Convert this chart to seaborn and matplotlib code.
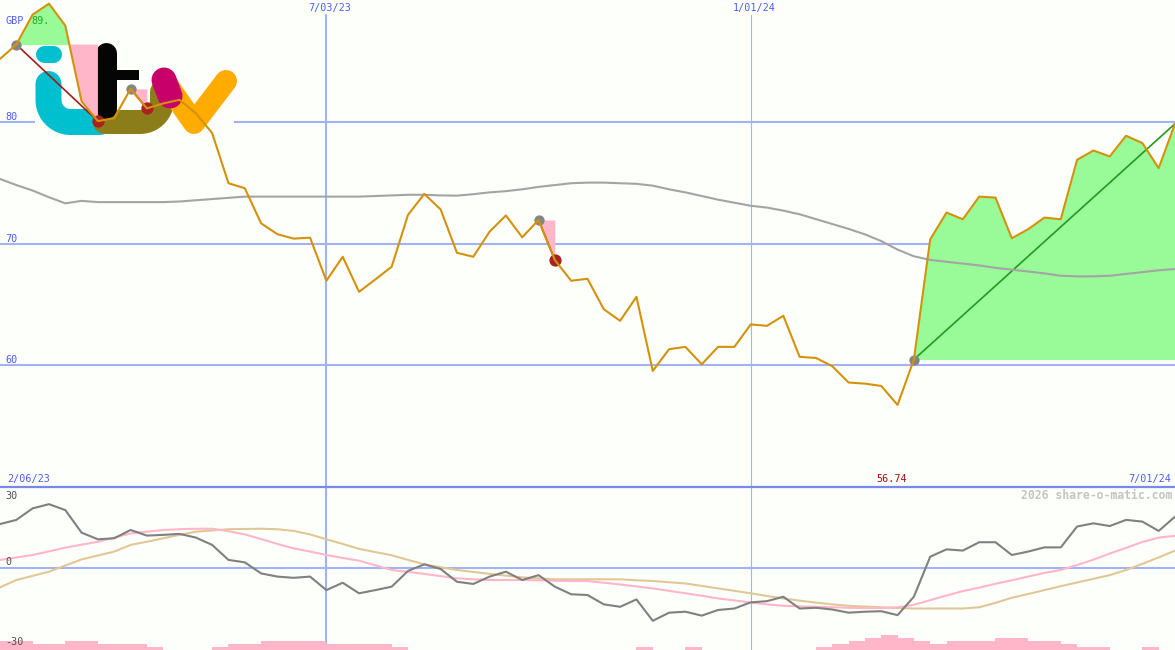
import numpy as np
import pandas as pd
import matplotlib
matplotlib.use("Agg")
import matplotlib.pyplot as plt
import seaborn as sns
from matplotlib.transforms import Affine2D, blended_transform_factory
from matplotlib.patches import Rectangle

# ---------------- data ----------------
start_date = "2023-02-13"
price = [85.16, 86.34, 88.8, 89.7, 87.9, 81.67, 80.05, 80.3, 82.7, 81.1,
         81.5, 81.8, 80.7, 79.07, 74.95, 74.54, 71.66, 70.76, 70.4, 70.48,
         66.94, 68.91, 66.03, 67.05, 68.09, 72.35, 74.07, 72.8, 69.24, 68.91,
         70.97, 72.3, 70.51, 71.93, 68.64, 66.94, 67.1, 64.6, 63.65, 65.62,
         59.53, 61.32, 61.51, 60.08, 61.51, 61.51, 63.35, 63.24, 64.06, 60.69,
         60.6, 59.92, 58.58, 58.49, 58.3, 56.74, 60.47, 70.34, 72.54, 71.99,
         73.85, 73.77, 70.43, 71.17, 72.13, 71.99, 76.87, 77.64, 77.15, 78.85,
         78.25, 76.19, 79.84]
moving_avg = [75.3, 74.8, 74.35, 73.8, 73.3, 73.5, 73.4, 73.4, 73.4, 73.4,
              73.4, 73.45, 73.55, 73.65, 73.75, 73.85, 73.85, 73.85, 73.85, 73.85,
              73.85, 73.85, 73.85, 73.9, 73.95, 74.0, 74.0, 73.95, 73.93, 74.05,
              74.2, 74.3, 74.45, 74.65, 74.8, 74.95, 75.0, 75.0, 74.95, 74.9,
              74.75, 74.45, 74.2, 73.9, 73.6, 73.35, 73.1, 72.95, 72.7, 72.4,
              72.0, 71.6, 71.2, 70.75, 70.2, 69.5, 68.95, 68.65, 68.5, 68.35,
              68.2, 68.0, 67.85, 67.7, 67.55, 67.35, 67.3, 67.3, 67.35, 67.5,
              67.65, 67.8, 67.9]
oscillator = [17.9, 19.6, 24.3, 26.0, 23.6, 14.4, 11.7, 12.1, 15.5, 13.2,
              13.5, 13.9, 12.4, 9.4, 3.3, 2.3, -2.2, -3.5, -4.0, -3.5,
              -9.0, -6.0, -10.3, -9.0, -7.6, -1.2, 1.5, -0.4, -5.6, -6.5,
              -3.5, -1.5, -4.9, -2.9, -7.6, -10.7, -11.0, -14.8, -15.8, -12.8,
              -21.5, -18.2, -17.8, -19.4, -17.1, -16.5, -14.0, -13.5, -11.7, -16.5,
              -16.2, -16.9, -18.2, -17.8, -17.6, -19.2, -11.7, 4.6, 7.6, 7.1,
              10.5, 10.5, 5.3, 6.7, 8.4, 8.4, 16.9, 18.2, 17.1, 19.6,
              18.9, 15.1, 20.9]
signal_fast = [3.3, 4.3, 5.3, 6.8, 8.3, 9.5, 10.7, 12.4, 14.1, 14.8,
               15.5, 15.8, 16.0, 16.0, 15.0, 13.7, 11.8, 9.8, 8.0, 6.7,
               5.3, 4.1, 3.0, 1.1, -0.8, -1.6, -2.4, -3.3, -4.2, -4.6,
               -4.9, -4.9, -4.9, -5.0, -5.2, -5.3, -5.3, -6.0, -6.7, -7.5,
               -8.3, -9.3, -10.3, -11.3, -12.4, -13.2, -14.1, -14.8, -15.4, -15.6,
               -15.8, -16.0, -16.2, -16.3, -16.3, -16.0, -15.0, -13.1, -11.2, -9.4,
               -8.0, -6.4, -5.0, -3.5, -2.0, -0.8, 1.2, 3.4, 5.9, 8.2,
               10.6, 12.4, 13.1]
signal_slow = [-7.9, -4.9, -3.2, -1.5, 1.0, 3.5, 5.1, 6.7, 9.4, 10.7,
               12.1, 13.5, 14.8, 15.3, 15.8, 15.9, 16.0, 15.8, 15.1, 13.7,
               11.7, 9.8, 7.8, 6.5, 5.2, 3.3, 1.5, 0.3, -0.8, -1.6,
               -2.4, -3.1, -3.8, -4.2, -4.6, -4.6, -4.6, -4.6, -4.6, -5.0,
               -5.3, -5.8, -6.3, -7.3, -8.3, -9.3, -10.3, -11.4, -12.4, -13.3,
               -14.1, -14.8, -15.4, -15.7, -16.0, -16.3, -16.5, -16.5, -16.5, -16.5,
               -16.0, -14.2, -12.1, -10.6, -9.0, -7.4, -5.9, -4.4, -2.9, -0.8,
               1.7, 4.3, 7.1]
volume = [3, 3, 2, 2, 3, 3, 2, 2, 2, 1,
          0, 0, 0, 1, 2, 2, 3, 3, 3, 3,
          2, 2, 2, 2, 1, 0, 0, 0, 0, 0,
          0, 0, 0, 0, 0, 0, 0, 0, 0, 1,
          0, 0, 1, 0, 0, 0, 0, 0, 0, 0,
          1, 2, 3, 4, 5, 4, 3, 2, 3, 3,
          3, 4, 4, 3, 3, 2, 1, 1, 0, 0,
          1, 0, 0]
swing_start = [1, 8, 33, 56]
swing_end = [6, 9, 34, 72]
date_lines = ["7/03/23", "1/01/24"]
range_labels = ["2/06/23", "7/01/24"]
price_grid = [60, 70, 80]
osc_labels = ["30", "0", "-30"]
currency = "GBP"
watermark = "2026 share-o-matic.com"

dates = pd.date_range(start_date, periods=len(price), freq="7D")
df = pd.DataFrame({"date": dates, "price": price, "ma": moving_avg,
                   "osc": oscillator, "fast": signal_fast, "slow": signal_slow,
                   "vol": volume})

# ---------------- style ----------------
BG = "#fcfffa"
GRID = "#a3b2f2"
SEP = "#7a88ea"
BLUE_TXT = "#4d5ef2"
PRICE_C = "#d4920c"
GREEN_FILL = "#98fb98"
PINK = "#ffb6c8"
sns.set_style("white", {"axes.facecolor": BG, "figure.facecolor": BG})
plt.rcParams["font.family"] = ["DejaVu Sans Mono", "DejaVu Sans"]

W, H, HB = 1175, 650, 163
fig = plt.figure(figsize=(W / 100, H / 100), dpi=100, facecolor=BG)
ax = fig.add_axes([0, HB / H, 1, (H - HB) / H])
axb = fig.add_axes([0, 0, 1, HB / H], sharex=ax)
HM = H - HB

# ---------------- main panel ----------------
for v in price_grid:
    ax.axhline(v, color=GRID, lw=1.5, zorder=1)
vdates = [pd.to_datetime(s, format="%m/%d/%y") for s in date_lines]
vl_w = [1.5, 0.8]
for d, w in zip(vdates, vl_w):
    ax.axvline(d, ymax=1 - 15 / HM, color=GRID, lw=w, zorder=1)
    axb.axvline(d, color=GRID, lw=w, zorder=1)

# logo (decoration, pixel coordinates of the panel)
pix = Affine2D().scale(1 / W, -1 / HM).translate(0, 1) + ax.transAxes
ax.add_patch(Rectangle((35, 41), 199, 96, transform=pix, color=BG, lw=0, zorder=1.5))

def arc(cx, cy, r, a0, a1, n=16):
    a = np.radians(np.linspace(a0, a1, n))
    return list(cx + r * np.cos(a)), list(cy + r * np.sin(a))

def stroke(xs, ys, color, wpx, cap="round"):
    ax.plot(xs, ys, transform=pix, color=color, lw=wpx * 0.72,
            solid_capstyle=cap, solid_joinstyle="round", zorder=1.6)

stroke([44, 53], [53.5, 53.5], "#00bfcf", 17)
ax1, ay1 = arc(70.5, 100, 22, 180, 90)
stroke([48.5] + ax1 + [100], [84] + ay1 + [122], "#00bfcf", 26)
ox, oy = arc(140, 100, 22, 90, 0)
stroke([105] + ox + [162], [122] + oy + [92], "#8b7d1a", 24)
stroke([105.5, 105.5], [53, 108], "#050505", 21)
ax.add_patch(Rectangle((105, 70), 34, 10, transform=pix, color="#050505", lw=0, zorder=1.6))
stroke([168, 194, 226], [86, 123, 81], "#ffab00", 22)
stroke([164, 170], [80, 96], "#c8006a", 25)

# swing fills and trend lines
for k, (s, e) in enumerate(zip(swing_start, swing_end)):
    seg = df.iloc[s:e + 1]
    lvl = price[s]
    p = seg["price"].to_numpy()
    ax.fill_between(seg["date"], p, lvl, where=p >= lvl, interpolate=True,
                    color=GREEN_FILL, lw=0, zorder=2)
    ax.fill_between(seg["date"], p, lvl, where=p <= lvl, interpolate=True,
                    color=PINK, lw=0, zorder=2)
    open_swing = (e == len(price) - 1)
    ax.plot([dates[s], dates[e]], [price[s], price[e]],
            color="#229922" if open_swing else "#a31a1a",
            lw=1.2, zorder=3)

sns.lineplot(data=df, x="date", y="ma", ax=ax, color="#a4a4a4", lw=1.5,
             zorder=3, legend=False)
ax.scatter(dates[swing_start], [price[i] for i in swing_start], s=55,
           color="#858585", lw=0, zorder=4)
closed = [e for e in swing_end if e != len(price) - 1]
ax.scatter(dates[closed], [price[i] for i in closed], s=78,
           color="#a82222", lw=0, zorder=4)
sns.lineplot(data=df, x="date", y="price", ax=ax, color=PRICE_C, lw=1.5,
             zorder=5, legend=False)

ax.set_xlim(dates[0], dates[-1])
ax.set_ylim(50, 90)

# main panel texts
fs = 7.3
ytr = ax.get_yaxis_transform()
for v in price_grid:
    ax.text(5 / W, v, str(v), transform=ytr, va="bottom", ha="left",
            color=BLUE_TXT, fontsize=fs, zorder=6)
ax.text(5 / W, 1 - 21 / HM, currency, transform=ax.transAxes, va="center",
        ha="left", color=BLUE_TXT, fontsize=fs, zorder=6)
ax.text(31 / W, 1 - 21 / HM, f"{int(max(price))}.", transform=ax.transAxes,
        va="center", ha="left", color="#22aa22", fontsize=fs, zorder=6)
xtr = blended_transform_factory(ax.transData, ax.transAxes)
for d, lab in zip(vdates, date_lines):
    ax.text(d + pd.Timedelta(days=1.5), 1 - 3 / HM, lab, transform=xtr,
            ha="center", va="top", color=BLUE_TXT, fontsize=fs, zorder=6)
ax.text(7 / W, 1 - 479 / HM, range_labels[0], transform=ax.transAxes,
        ha="left", va="center", color=BLUE_TXT, fontsize=fs, zorder=6)
ax.text(1171 / W, 1 - 479 / HM, range_labels[1], transform=ax.transAxes,
        ha="right", va="center", color=BLUE_TXT, fontsize=fs, zorder=6)
imin = int(np.argmin(price))
ax.text(dates[imin] - pd.Timedelta(days=2.7), 1 - 479 / HM, f"{min(price):.2f}",
        transform=xtr, ha="center", va="center", color="#a01010",
        fontsize=fs, zorder=6)

# ---------------- bottom panel ----------------
axb.axhline(0, color=GRID, lw=1.5, zorder=1)
sns.lineplot(data=df, x="date", y="slow", ax=axb, color="#e0c896", lw=1.5,
             zorder=3, legend=False)
sns.lineplot(data=df, x="date", y="fast", ax=axb, color=PINK, lw=1.5,
             zorder=3, legend=False)
sns.lineplot(data=df, x="date", y="osc", ax=axb, color="#808080", lw=1.5,
             zorder=4, legend=False)
axb.set_ylim(-33.4, 33.0)
axv = axb.twinx()
axv.bar(dates, volume, width=7, align="edge", color=PINK, lw=0, zorder=1)
axv.set_ylim(0, HB / 3)

osc_pos = [0.945, 0.54, 0.049]
for lab, pos in zip(osc_labels, osc_pos):
    axv.text(5 / W, pos, lab, transform=axv.transAxes, va="center",
             ha="left", color="#505050", fontsize=fs, zorder=6)
axv.text(1172 / W, 0.945, watermark, transform=axv.transAxes, ha="right",
         va="center", color="#c4c4c4", fontsize=8.3, fontweight="bold")

# ---------------- cleanup ----------------
for a in (ax, axb, axv):
    a.set_xticks([])
    a.set_yticks([])
    a.set_xlabel("")
    a.set_ylabel("")
    for sp in a.spines.values():
        sp.set_visible(False)
ax.set_xlim(dates[0], dates[-1])
axb.spines["top"].set_visible(True)
axb.spines["top"].set_color(SEP)
axb.spines["top"].set_linewidth(1.6)

fig.savefig("out.png", dpi=100, facecolor=BG)
